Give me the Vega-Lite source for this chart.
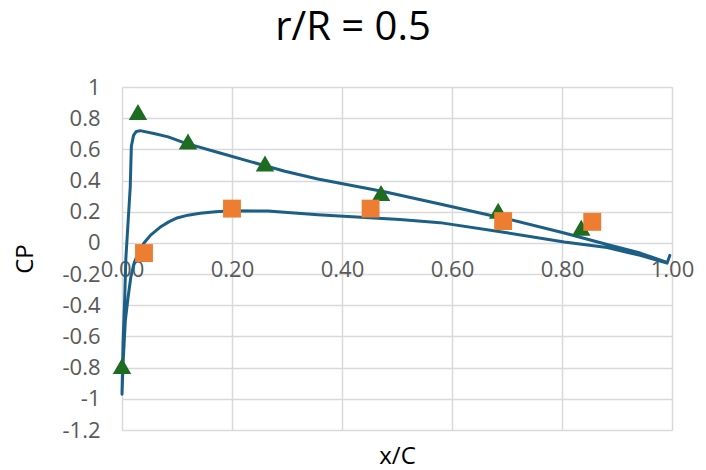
{
  "$schema": "https://vega.github.io/schema/vega-lite/v6.json",
  "width": 550,
  "height": 343,
  "autosize": {"type": "none"},
  "padding": {"left": 122, "top": 87, "right": 34, "bottom": 40},
  "background": "white",
  "config": {
    "view": {"stroke": null},
    "font": "Open Sans"
  },
  "title": {
    "text": "r/R = 0.5",
    "fontSize": 40,
    "font": "Open Sans",
    "fontWeight": "normal",
    "color": "#000000",
    "anchor": "middle",
    "dx": -44,
    "offset": 28
  },
  "datasets": {
    "curve": [
      {"i": 0, "x": 0.991, "cp": -0.125},
      {"i": 1, "x": 0.942, "cp": -0.065},
      {"i": 2, "x": 0.882, "cp": -0.01},
      {"i": 3, "x": 0.804, "cp": 0.064},
      {"i": 4, "x": 0.70, "cp": 0.155},
      {"i": 5, "x": 0.669, "cp": 0.177},
      {"i": 6, "x": 0.578, "cp": 0.25},
      {"i": 7, "x": 0.475, "cp": 0.33},
      {"i": 8, "x": 0.356, "cp": 0.41},
      {"i": 9, "x": 0.296, "cp": 0.46},
      {"i": 10, "x": 0.235, "cp": 0.52},
      {"i": 11, "x": 0.175, "cp": 0.58},
      {"i": 12, "x": 0.115, "cp": 0.64},
      {"i": 13, "x": 0.084, "cp": 0.68},
      {"i": 14, "x": 0.06, "cp": 0.70},
      {"i": 15, "x": 0.033, "cp": 0.72},
      {"i": 16, "x": 0.026, "cp": 0.715},
      {"i": 17, "x": 0.021, "cp": 0.69},
      {"i": 18, "x": 0.017, "cp": 0.62},
      {"i": 19, "x": 0.015, "cp": 0.36},
      {"i": 20, "x": 0.007, "cp": -0.1},
      {"i": 21, "x": 0.005, "cp": -0.35},
      {"i": 22, "x": 0.002, "cp": -0.63},
      {"i": 23, "x": 0.0, "cp": -0.97},
      {"i": 24, "x": 0.002, "cp": -0.77},
      {"i": 25, "x": 0.006, "cp": -0.5},
      {"i": 26, "x": 0.011, "cp": -0.35},
      {"i": 27, "x": 0.016, "cp": -0.22},
      {"i": 28, "x": 0.022, "cp": -0.13},
      {"i": 29, "x": 0.03, "cp": -0.06},
      {"i": 30, "x": 0.04, "cp": 0.0},
      {"i": 31, "x": 0.052, "cp": 0.05},
      {"i": 32, "x": 0.069, "cp": 0.10},
      {"i": 33, "x": 0.085, "cp": 0.135},
      {"i": 34, "x": 0.1, "cp": 0.16},
      {"i": 35, "x": 0.12, "cp": 0.178},
      {"i": 36, "x": 0.142, "cp": 0.19},
      {"i": 37, "x": 0.17, "cp": 0.2},
      {"i": 38, "x": 0.2, "cp": 0.206},
      {"i": 39, "x": 0.265, "cp": 0.205},
      {"i": 40, "x": 0.356, "cp": 0.18},
      {"i": 41, "x": 0.505, "cp": 0.15},
      {"i": 42, "x": 0.578, "cp": 0.13},
      {"i": 43, "x": 0.70, "cp": 0.065},
      {"i": 44, "x": 0.804, "cp": 0.006},
      {"i": 45, "x": 0.882, "cp": -0.03},
      {"i": 46, "x": 0.942, "cp": -0.08},
      {"i": 47, "x": 0.991, "cp": -0.13},
      {"i": 48, "x": 0.996, "cp": -0.08}
    ],
    "points": [
      {"series": "tri", "x": 0.029, "cp": 0.84},
      {"series": "tri", "x": 0.12, "cp": 0.65},
      {"series": "tri", "x": 0.26, "cp": 0.51},
      {"series": "tri", "x": 0.471, "cp": 0.32},
      {"series": "tri", "x": 0.684, "cp": 0.206},
      {"series": "tri", "x": 0.835, "cp": 0.097},
      {"series": "tri", "x": 0.0, "cp": -0.79},
      {"series": "sq", "x": 0.04, "cp": -0.065},
      {"series": "sq", "x": 0.2, "cp": 0.22},
      {"series": "sq", "x": 0.452, "cp": 0.22},
      {"series": "sq", "x": 0.693, "cp": 0.14},
      {"series": "sq", "x": 0.855, "cp": 0.135}
    ]
  },
  "encoding": {
    "x": {
      "field": "x",
      "type": "quantitative",
      "scale": {"domain": [0, 1], "nice": false, "zero": false},
      "axis": {
        "values": [0, 0.2, 0.4, 0.6, 0.8, 1.0],
        "format": ".2f",
        "offset": -187,
        "ticks": false,
        "domain": false,
        "grid": true,
        "gridColor": "#D9D9D9",
        "gridWidth": 1.5,
        "labelFont": "Open Sans",
        "labelFontSize": 22,
        "labelColor": "#595959",
        "labelPadding": 16,
        "labelFlush": false,
        "labelOverlap": false,
        "title": "x/C",
        "titleFont": "Open Sans",
        "titleFontSize": 24,
        "titleFontWeight": "normal",
        "titleColor": "#000000",
        "titleBaseline": "alphabetic",
        "titleY": 220
      }
    },
    "y": {
      "field": "cp",
      "type": "quantitative",
      "scale": {"domain": [-1.2, 1], "nice": false, "zero": false},
      "axis": {
        "values": [-1.2, -1, -0.8, -0.6, -0.4, -0.2, 0, 0.2, 0.4, 0.6, 0.8, 1],
        "labelExpr": "toString(round(datum.value*10)/10)",
        "ticks": false,
        "domain": false,
        "grid": true,
        "gridColor": "#D9D9D9",
        "gridWidth": 1.5,
        "labelFont": "Open Sans",
        "labelFontSize": 22,
        "labelColor": "#595959",
        "labelPadding": 22,
        "labelOverlap": false,
        "labelFlush": false,
        "title": "CP",
        "titleFont": "Open Sans",
        "titleFontSize": 24,
        "titleFontWeight": "normal",
        "titleColor": "#000000",
        "titlePadding": 24
      }
    }
  },
  "layer": [
    {
      "data": {"name": "curve"},
      "mark": {"type": "line", "color": "#1C5F86", "strokeWidth": 3, "strokeJoin": "round", "strokeCap": "round", "clip": false},
      "encoding": {"order": {"field": "i", "type": "quantitative"}}
    },
    {
      "data": {"name": "points"},
      "transform": [{"filter": "datum.series === 'tri'"}],
      "mark": {"type": "point", "shape": "triangle-up", "filled": true, "size": 340, "color": "#1E6B22", "opacity": 1}
    },
    {
      "data": {"name": "points"},
      "transform": [{"filter": "datum.series === 'sq'"}],
      "mark": {"type": "point", "shape": "square", "filled": true, "size": 320, "color": "#ED7D31", "opacity": 1}
    }
  ]
}
